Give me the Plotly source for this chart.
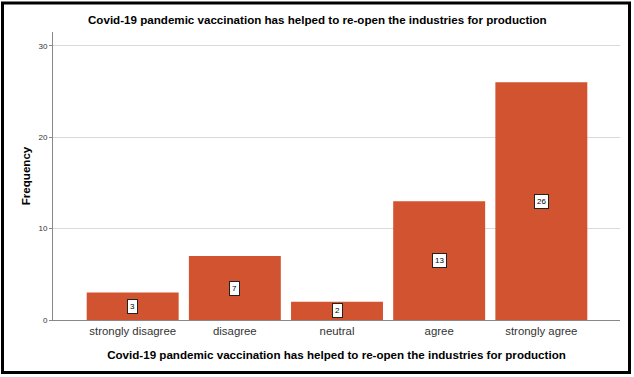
import plotly.graph_objects as go

categories = ["strongly disagree", "disagree", "neutral", "agree", "strongly agree"]
frequencies = [3, 7, 2, 13, 26]
y_ticks = [0, 10, 20, 30]

title_text = "Covid-19 pandemic vaccination has helped to re-open the industries for production"
bar_color = "#D2532F"

W, H = 634, 377
L, R, T, B = 53, 14, 32, 57
pw, ph = W - L - R, H - T - B

fig = go.Figure()
fig.add_trace(go.Bar(
    x=list(range(len(categories))), y=frequencies,
    marker=dict(color=bar_color, line=dict(width=0)),
    width=0.9, hoverinfo="skip",
))

for i, v in enumerate(frequencies):
    fig.add_annotation(
        x=i, y=v / 2, xref="x", yref="y", text=str(v), showarrow=False,
        font=dict(family="Liberation Sans, Arial", size=8, color="#000"),
        bgcolor="white", bordercolor="#222", borderwidth=1, borderpad=2,
    )

def px_x(x):
    return (x - L) / pw

def px_y(y):
    return (H - B - y) / ph

# title
fig.add_annotation(
    x=px_x(W / 2), y=px_y(20), xref="paper", yref="paper",
    text="<b>" + title_text + "</b>", showarrow=False,
    font=dict(family="Liberation Sans, Arial", size=11.6, color="#000"),
    xanchor="center", yanchor="middle",
)

# outer frame
fig.add_shape(type="rect", xref="paper", yref="paper",
              x0=px_x(2.5), x1=px_x(629.5), y0=px_y(3), y1=px_y(372.5),
              line=dict(color="#000", width=3), fillcolor="rgba(0,0,0,0)", layer="above")

fig.update_layout(
    width=W, height=H,
    margin=dict(l=L, r=R, t=T, b=B, autoexpand=False),
    paper_bgcolor="white", plot_bgcolor="white",
    showlegend=False,
    bargap=0.1,
    font=dict(family="Liberation Sans, Arial", color="#000"),
    xaxis=dict(
        tickmode="array", tickvals=list(range(len(categories))), ticktext=categories,
        range=[-0.78, 4.77], showgrid=False, zeroline=False,
        showline=True, linecolor="#888", linewidth=1,
        ticks="", tickfont=dict(size=11.4, color="#333"),
        title=dict(text="<b>" + title_text + "</b>", font=dict(size=11.6, color="#000"), standoff=15),
    ),
    yaxis=dict(
        range=[0, 31.5], tickvals=y_ticks, showgrid=True, gridcolor="#D9D9D9", gridwidth=1,
        zeroline=False, showline=True, linecolor="#888", linewidth=1,
        ticks="outside", ticklen=3, tickcolor="#888",
        tickfont=dict(size=8, color="#333"),
        title=dict(text="<b>Frequency</b>", font=dict(size=11.6, color="#000"), standoff=5),
    ),
)

fig.write_html("out.html", config={"displayModeBar": False},
               post_script="document.body.style.margin='0';document.body.style.overflow='hidden';")
